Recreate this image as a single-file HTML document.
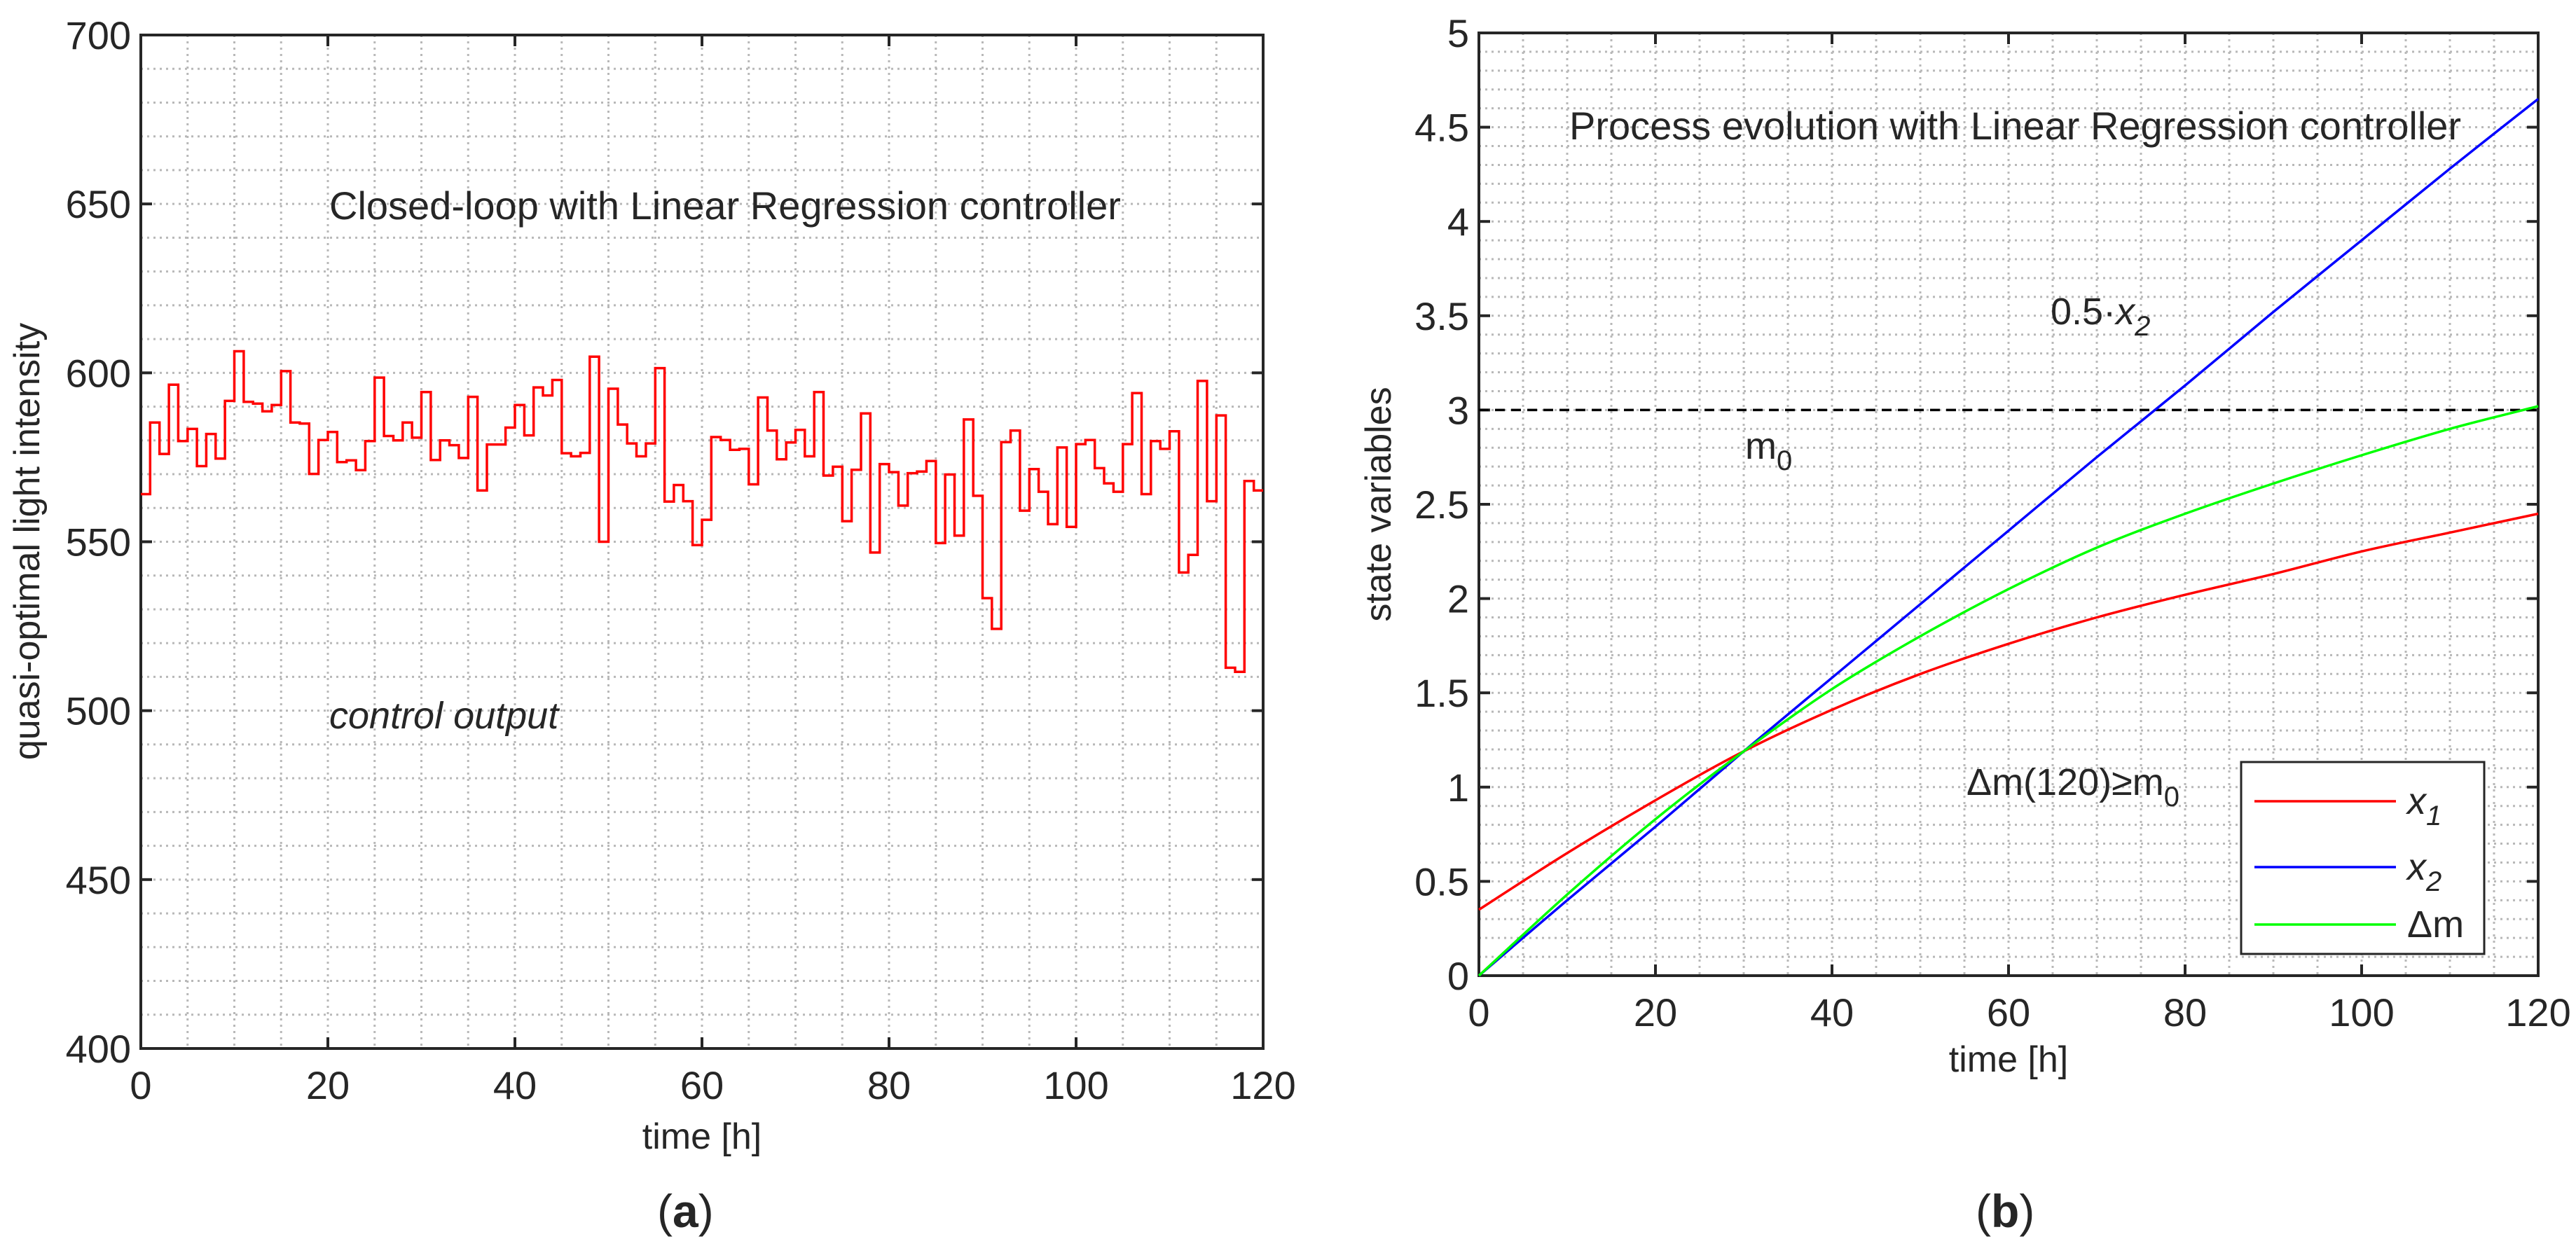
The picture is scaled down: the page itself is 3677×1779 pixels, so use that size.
<!DOCTYPE html>
<html>
<head>
<meta charset="utf-8">
<style>
html,body{margin:0;padding:0;background:#fff;}
svg{display:block;}
text{font-family:"Liberation Sans",Arial,sans-serif;fill:#262626;}
</style>
</head>
<body>
<svg id="fig" width="3677" height="1779" viewBox="0 0 3677 1779" xmlns="http://www.w3.org/2000/svg"></svg>
<script>
// ---------- Chart (a) data ----------
const lightHours = [0,1,2,3,4,5,6,7,8,9,10,11,12,13,14,15,16,17,18,19,20,21,22,23,24,25,26,27,28,29,30,31,32,33,34,35,36,37,38,39,40,41,42,43,44,45,46,47,48,49,50,51,52,53,54,55,56,57,58,59,60,61,62,63,64,65,66,67,68,69,70,71,72,73,74,75,76,77,78,79,80,81,82,83,84,85,86,87,88,89,90,91,92,93,94,95,96,97,98,99,100,101,102,103,104,105,106,107,108,109,110,111,112,113,114,115,116,117,118,119];
const lightValues = [564.1,585.3,576,596.5,579.8,583.4,572.4,581.9,574.6,591.7,606.4,591.4,590.9,588.6,590.5,600.5,585.3,585,570.1,580.1,582.5,573.6,574.1,571.2,579.8,598.6,581.3,580,585.3,580.8,594.3,574.2,580,578.6,574.8,592.9,565.2,578.8,578.8,583.8,590.5,581.5,595.7,593.3,597.9,576.2,575.3,576.3,604.8,550,595.3,584.7,579.1,575.3,579.1,601.4,561.9,566.8,562,549,556.5,581,580.1,577.2,577.5,567,592.7,582.9,574.4,579.4,583.1,575.3,594.3,569.6,572.2,556.1,571.3,588,546.8,573,570.6,560.7,570.3,570.8,573.9,549.6,569.9,551.8,586.2,563.6,533.3,524.2,579.5,582.9,559.2,571.5,564.8,555.2,577.9,554.4,578.9,580.1,571.8,567.3,564.8,578.9,594,564.1,579.8,577.5,582.7,540.9,546.1,597.6,562,587.4,512.7,511.5,568,565.2];
const aXTicks = [0,20,40,60,80,100,120];
const aYTicks = [400,450,500,550,600,650,700];
// ---------- Chart (b) data ----------
const stateTimes = [0,10,20,30,40,50,60,70,80,90,100,110,120];
const x1Values = [0.35,0.65,0.93,1.19,1.41,1.6,1.76,1.9,2.02,2.13,2.25,2.35,2.45];
const x2Values = [0,0.4,0.79,1.19,1.58,1.97,2.36,2.75,3.13,3.52,3.9,4.28,4.65];
const dmValues = [0,0.43,0.83,1.19,1.52,1.8,2.05,2.27,2.45,2.61,2.76,2.9,3.02];
const m0Value = 3;
const bXTicks = [0,20,40,60,80,100,120];
const bYTicks = [0,0.5,1,1.5,2,2.5,3,3.5,4,4.5,5];
const bYTickLabels = ["0","0.5","1","1.5","2","2.5","3","3.5","4","4.5","5"];

const NS = "http://www.w3.org/2000/svg";
const svg = document.getElementById('fig');
function el(tag, attrs, parent){
  const e = document.createElementNS(NS, tag);
  for (const k in attrs) e.setAttribute(k, attrs[k]);
  (parent||svg).appendChild(e);
  return e;
}

function drawAxes(g, box, xmin, xmax, ymin, ymax, xMinorStep, yMinorStep, xTicks, yTicks, yLabels){
  const sx = v => box.l + (v - xmin) / (xmax - xmin) * (box.r - box.l);
  const sy = v => box.b - (v - ymin) / (ymax - ymin) * (box.b - box.t);
  const nx = Math.round((xmax - xmin) / xMinorStep);
  for (let i = 1; i < nx; i++) {
    const x = sx(xmin + i * xMinorStep);
    const ln = el('line', {x1:x, x2:x, y1:box.t, y2:box.b, stroke:'#b8b8b8', 'stroke-width':3, 'stroke-dasharray':'3 6'}, g);
    
    
  }
  const ny = Math.round((ymax - ymin) / yMinorStep);
  for (let i = 1; i < ny; i++) {
    const y = sy(ymin + i * yMinorStep);
    const ln = el('line', {x1:box.l, x2:box.r, y1:y, y2:y, stroke:'#b8b8b8', 'stroke-width':3, 'stroke-dasharray':'3 6'}, g);
    
    
  }
  const fr = el('rect', {x:box.l, y:box.t, width:box.r-box.l, height:box.b-box.t, fill:'none', stroke:'#262626', 'stroke-width':4}, g);
  
  
  xTicks.forEach(v => {
    const x = sx(v);
    el('line', {x1:x, x2:x, y1:box.b, y2:box.b-16, stroke:'#262626', 'stroke-width':4}, g);
    el('line', {x1:x, x2:x, y1:box.t, y2:box.t+16, stroke:'#262626', 'stroke-width':4}, g);
    const t = el('text', {x:x, y:box.b+72, 'text-anchor':'middle', 'font-size':56}, g);
    t.textContent = String(v);
    
    
  });
  yTicks.forEach((v, i) => {
    const y = sy(v);
    el('line', {x1:box.l, x2:box.l+16, y1:y, y2:y, stroke:'#262626', 'stroke-width':4}, g);
    el('line', {x1:box.r, x2:box.r-16, y1:y, y2:y, stroke:'#262626', 'stroke-width':4}, g);
    const t = el('text', {x:box.l-14, y:y+20, 'text-anchor':'end', 'font-size':56}, g);
    t.textContent = yLabels ? yLabels[i] : String(v);
    
    
  });
  return {sx, sy};
}

// ================= Chart (a) =================
const gA = el('g', {});


const boxA = {l:201, r:1803, t:50, b:1497};
const A = drawAxes(gA, boxA, 0, 120, 400, 700, 5, 10, aXTicks, aYTicks, null);
let dA = '';
lightValues.forEach((v, i) => {
  const x0 = A.sx(lightHours[i]), x1 = A.sx(lightHours[i] + 1), y = A.sy(v);
  dA += (i === 0 ? 'M' : 'L') + x0.toFixed(1) + ' ' + y.toFixed(1) + ' L' + x1.toFixed(1) + ' ' + y.toFixed(1) + ' ';
});
const stair = el('path', {d:dA, fill:'none', stroke:'#ff0000', 'stroke-width':3.5, 'stroke-linejoin':'miter'}, gA);



let t;
t = el('text', {x:470, y:313, 'font-size':56}, gA);
t.textContent = 'Closed-loop with Linear Regression controller';


t = el('text', {x:470, y:1040, 'font-size':54, 'font-style':'italic'}, gA);
t.textContent = 'control output';


t = el('text', {x:1002, y:1640, 'font-size':52, 'text-anchor':'middle'}, gA);
t.textContent = 'time [h]';


t = el('text', {x:0, y:0, 'font-size':52, 'text-anchor':'middle', transform:'translate(56,773) rotate(-90)'}, gA);
t.textContent = 'quasi-optimal light intensity';


t = el('text', {x:938, y:1752, 'font-size':66, 'font-family':'Liberation Serif, serif'}, gA);
t.innerHTML = '(<tspan font-weight="bold">a</tspan>)';



// ================= Chart (b) =================
const gB = el('g', {});


const boxB = {l:2111, r:3623, t:47, b:1393};
const B = drawAxes(gB, boxB, 0, 120, 0, 5, 5, 0.1, bXTicks, bYTicks, bYTickLabels);

const m0 = el('line', {x1:boxB.l, x2:boxB.r, y1:B.sy(m0Value), y2:B.sy(m0Value), stroke:'#000', 'stroke-width':3.5, 'stroke-dasharray':'14 9'}, gB);



function smoothPath(xs, ys){
  const pts = xs.map((x, i) => [B.sx(x), B.sy(ys[i])]);
  let d = 'M' + pts[0][0].toFixed(1) + ' ' + pts[0][1].toFixed(1);
  for (let i = 0; i < pts.length - 1; i++) {
    const p0 = pts[Math.max(0, i-1)], p1 = pts[i], p2 = pts[i+1], p3 = pts[Math.min(pts.length-1, i+2)];
    const c1 = [p1[0] + (p2[0]-p0[0])/6, p1[1] + (p2[1]-p0[1])/6];
    const c2 = [p2[0] - (p3[0]-p1[0])/6, p2[1] - (p3[1]-p1[1])/6];
    d += ' C' + c1[0].toFixed(1) + ' ' + c1[1].toFixed(1) + ' ' + c2[0].toFixed(1) + ' ' + c2[1].toFixed(1) + ' ' + p2[0].toFixed(1) + ' ' + p2[1].toFixed(1);
  }
  return d;
}
const lx1 = el('path', {d:smoothPath(stateTimes, x1Values), fill:'none', stroke:'#ff0000', 'stroke-width':3.5}, gB);


const lx2 = el('path', {d:smoothPath(stateTimes, x2Values), fill:'none', stroke:'#0000ff', 'stroke-width':3.5}, gB);


const ldm = el('path', {d:smoothPath(stateTimes, dmValues), fill:'none', stroke:'#00ff00', 'stroke-width':3.5}, gB);



t = el('text', {x:2240, y:199, 'font-size':56}, gB);
t.textContent = 'Process evolution with Linear Regression controller';


t = el('text', {x:2927, y:463, 'font-size':54}, gB);
t.innerHTML = '0.5·<tspan font-style="italic">x</tspan><tspan font-style="italic" font-size="40" dy="16">2</tspan>';


t = el('text', {x:2491, y:655, 'font-size':54}, gB);
t.innerHTML = 'm<tspan font-size="40" dy="16">0</tspan>';


t = el('text', {x:2807, y:1135, 'font-size':54}, gB);
t.innerHTML = 'Δm(120)≥m<tspan font-size="40" dy="16">0</tspan>';



// legend
const lg = el('g', {}, gB);


el('rect', {x:3199, y:1088, width:347, height:274, fill:'#fff', stroke:'#262626', 'stroke-width':3}, lg);
const legendItems = [
  {c:'#ff0000', y:1144, html:'<tspan font-style="italic">x</tspan><tspan font-style="italic" font-size="40" dy="16">1</tspan>', n:'legend-entry-x1'},
  {c:'#0000ff', y:1238, html:'<tspan font-style="italic">x</tspan><tspan font-style="italic" font-size="40" dy="16">2</tspan>', n:'legend-entry-x2'},
  {c:'#00ff00', y:1320, html:'Δm', n:'legend-entry-delta-m'}
];
legendItems.forEach(it => {
  const g = el('g', {}, lg);
  
  
  el('line', {x1:3218, x2:3420, y1:it.y, y2:it.y, stroke:it.c, 'stroke-width':3.5}, g);
  const tx = el('text', {x:3436, y:it.y + 18, 'font-size':54}, g);
  tx.innerHTML = it.html;
});

t = el('text', {x:2867, y:1530, 'font-size':52, 'text-anchor':'middle'}, gB);
t.textContent = 'time [h]';


t = el('text', {x:0, y:0, 'font-size':52, 'text-anchor':'middle', transform:'translate(1985,720) rotate(-90)'}, gB);
t.textContent = 'state variables';


t = el('text', {x:2820, y:1752, 'font-size':66, 'font-family':'Liberation Serif, serif'}, gB);
t.innerHTML = '(<tspan font-weight="bold">b</tspan>)';


</script>
</body>
</html>
